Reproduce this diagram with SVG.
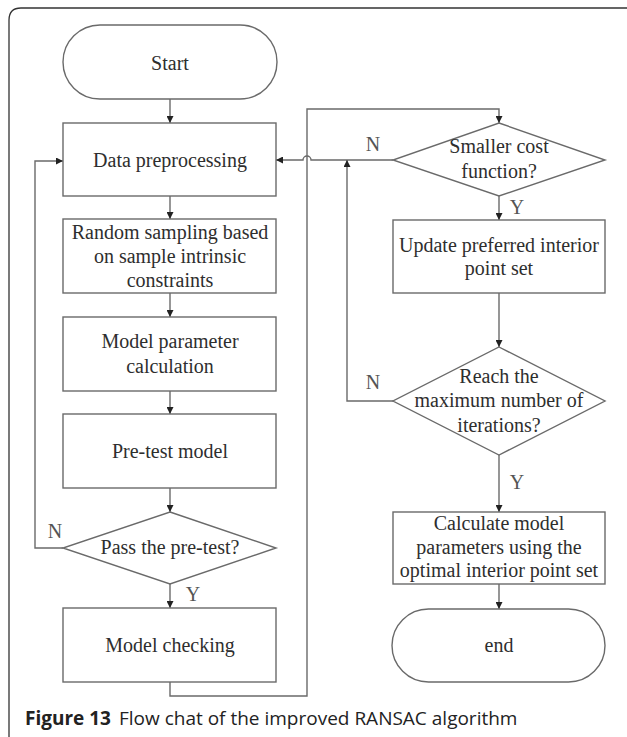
<svg xmlns="http://www.w3.org/2000/svg" width="627" height="737" viewBox="0 0 627 737">
<defs>
<marker id="ah" viewBox="0 0 10 10" refX="10" refY="5" markerWidth="7" markerHeight="7" markerUnits="userSpaceOnUse" orient="auto">
<path d="M0,0 L10,5 L0,10 z" fill="#222"/>
</marker>
<style>
.s{fill:#fff;stroke:#6a6a6a;stroke-width:1.4}
.t{font-family:"Liberation Serif","Times New Roman",serif;font-size:20px;fill:#2e2e2e;text-anchor:middle}
.l{font-family:"Liberation Serif","Times New Roman",serif;font-size:20px;fill:#555;text-anchor:middle}
.c{fill:none;stroke:#6a6a6a;stroke-width:1.4}
.a{marker-end:url(#ah)}
</style>
</defs>
<rect width="627" height="737" fill="#fff"/>
<path d="M9,737 L9,20 Q9,8 21,8 L627,8" fill="none" stroke="#333" stroke-width="1.3"/>

<g id="connectors">
<path class="c a" d="M170,99 V123"/>
<path class="c a" d="M170,196 V219"/>
<path class="c a" d="M170,293 V317"/>
<path class="c a" d="M170,391 V414"/>
<path class="c a" d="M170,488 V512"/>
<path class="c a" d="M170,584 V608"/>
<path class="c a" d="M63,548 H35 V161 H63"/>
<path class="c a" d="M170,682 V696 H307 V109 H499 V123"/>
<path class="c a" d="M393,160 H311 A4,4 0 0 0 303,160 H276"/>
<path class="c a" d="M499,196 V220"/>
<path class="c a" d="M499,293 V347"/>
<path class="c a" d="M393,401 H347 V160"/>
<path class="c a" d="M499,455 V512"/>
<path class="c a" d="M499,584 V609"/>
<text class="l" x="55" y="538">N</text>
<text class="l" x="193" y="601">Y</text>
<text class="l" x="373" y="151">N</text>
<text class="l" x="517" y="214">Y</text>
<text class="l" x="373" y="389">N</text>
<text class="l" x="517" y="489">Y</text>
</g>

<g id="start">
<rect class="s" x="63" y="25" width="214" height="74" rx="37" ry="37"/>
<text class="t" x="170" y="70">Start</text>
</g>
<g id="data">
<rect class="s" x="63" y="123" width="213" height="73"/>
<text class="t" x="170" y="167">Data preprocessing</text>
</g>
<g id="random">
<rect class="s" x="63" y="219" width="213" height="74"/>
<text class="t" x="170" y="239">Random sampling based</text>
<text class="t" x="170" y="263">on sample intrinsic</text>
<text class="t" x="170" y="287">constraints</text>
</g>
<g id="modelparam">
<rect class="s" x="63" y="317" width="213" height="74"/>
<text class="t" x="170" y="348">Model parameter</text>
<text class="t" x="170" y="373">calculation</text>
</g>
<g id="pretest">
<rect class="s" x="63" y="414" width="213" height="74"/>
<text class="t" x="170" y="458">Pre-test model</text>
</g>
<g id="pass">
<polygon class="s" points="170,512 276,548 170,584 63,548"/>
<text class="t" x="170" y="554">Pass the pre-test?</text>
</g>
<g id="checking">
<rect class="s" x="63" y="608" width="213" height="74"/>
<text class="t" x="170" y="652">Model checking</text>
</g>
<g id="smaller">
<polygon class="s" points="499,123 605,160 499,196 393,160"/>
<text class="t" x="499" y="153">Smaller cost</text>
<text class="t" x="499" y="178">function?</text>
</g>
<g id="update">
<rect class="s" x="393" y="220" width="212" height="73"/>
<text class="t" x="499" y="252">Update preferred interior</text>
<text class="t" x="499" y="275">point set</text>
</g>
<g id="reach">
<polygon class="s" points="499,347 605,401 499,455 393,401"/>
<text class="t" x="499" y="383">Reach the</text>
<text class="t" x="499" y="407">maximum number of</text>
<text class="t" x="499" y="432">iterations?</text>
</g>
<g id="calculate">
<rect class="s" x="393" y="512" width="212" height="72"/>
<text class="t" x="499" y="530">Calculate model</text>
<text class="t" x="499" y="554">parameters using the</text>
<text class="t" x="499" y="577">optimal interior point set</text>
</g>
<g id="end">
<rect class="s" x="392" y="609" width="213" height="73" rx="36.5" ry="36.5"/>
<text class="t" x="499" y="652">end</text>
</g>

<text x="25" y="725" font-family="'Open Sans','Noto Sans',sans-serif" font-size="19" fill="#222"><tspan font-weight="bold">Figure 13</tspan><tspan dx="8">Flow chat of the improved RANSAC algorithm</tspan></text>
</svg>
